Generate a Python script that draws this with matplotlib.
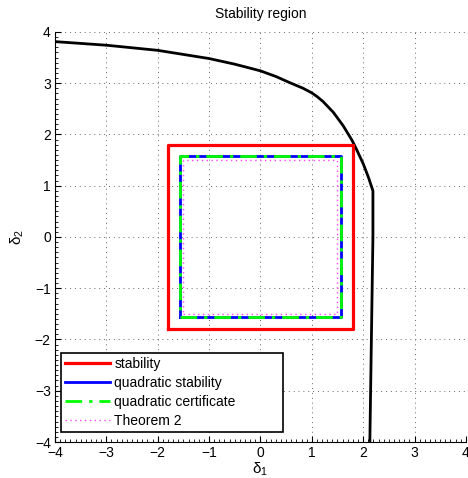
import numpy as np
import matplotlib.pyplot as plt
from matplotlib.ticker import MultipleLocator

plt.rcParams['font.family'] = ['Liberation Sans', 'DejaVu Sans']

# boundary curve
curve_x = [-4.0, -3.0, -2.0, -1.0, -0.5, 0.0, 0.3, 0.57, 0.83, 1.0, 1.1, 1.22, 1.42, 1.61,
           1.78, 1.87, 2.0, 2.1, 2.19, 2.19, 2.16, 2.13]
curve_y = [3.81, 3.74, 3.64, 3.48, 3.37, 3.24, 3.13, 3.01, 2.90, 2.81, 2.74, 2.64, 2.43, 2.17,
           1.89, 1.71, 1.43, 1.17, 0.90, 0.0, -2.0, -4.0]

# half widths of the square regions
stab_r = 1.8
quad_r = 1.57
cert_r = 1.57
thm_r = 1.5

corner_x = np.array([-1, 1, 1, -1, -1])
corner_y = np.array([-1, -1, 1, 1, -1])

ticks = list(range(-4, 5))
tick_labels = [str(v).replace('-', '\u2212') for v in ticks]

fig = plt.figure(figsize=(4.68, 4.78), dpi=100)
ax = fig.add_axes([0.1175, 0.0753, 0.878, 0.858])

ax.plot(curve_x, curve_y, color='black', lw=2.0)
ax.plot(stab_r * corner_x, stab_r * corner_y, color='red', lw=2.3, label='stability')
ax.plot(quad_r * corner_x, quad_r * corner_y, color='blue', lw=2.0, label='quadratic stability')
ax.plot(cert_r * corner_x, cert_r * corner_y, color='#00ff00', lw=2.0, ls='-.',
        dashes=(6, 2.5, 1.2, 2.5), label='quadratic certificate')
ax.plot(thm_r * corner_x, thm_r * corner_y, color='#ff44ff', lw=1.0,
        ls=(0, (1, 2.5)), label='Theorem 2')

ax.set_xlim(-4, 4)
ax.set_ylim(-4, 4)
ax.set_xticks(ticks)
ax.set_xticklabels(tick_labels)
ax.set_yticks(ticks)
ax.set_yticklabels(tick_labels)
ax.xaxis.set_minor_locator(MultipleLocator(0.1))
ax.yaxis.set_minor_locator(MultipleLocator(0.1))
ax.tick_params(which='both', direction='in', labelsize=10, top=False, right=False)
ax.tick_params(which='major', length=4, pad=3)
ax.tick_params(which='minor', length=2)
ax.spines['top'].set_visible(False)
ax.spines['right'].set_visible(False)
ax.grid(True, ls=(0, (1, 4)), color='#666666', lw=0.7)

ax.set_title('Stability region', fontsize=10, pad=10)
ax.set_xlabel('$\\mathregular{\\delta_1}$', fontsize=11, labelpad=0)
ax.set_ylabel('$\\mathregular{\\delta_2}$', fontsize=11, labelpad=6)

leg = ax.legend(loc='lower left', bbox_to_anchor=(0.0146, 0.024, 0.54, 0.194),
                mode='expand', fontsize=10, frameon=True, fancybox=False,
                handlelength=3.2, borderpad=0.3, labelspacing=0.36,
                handletextpad=0.35, borderaxespad=0)
leg.get_frame().set_edgecolor('black')
leg.get_frame().set_linewidth(1.2)
leg.get_frame().set_alpha(1.0)

fig.savefig('out.png', dpi=100)
